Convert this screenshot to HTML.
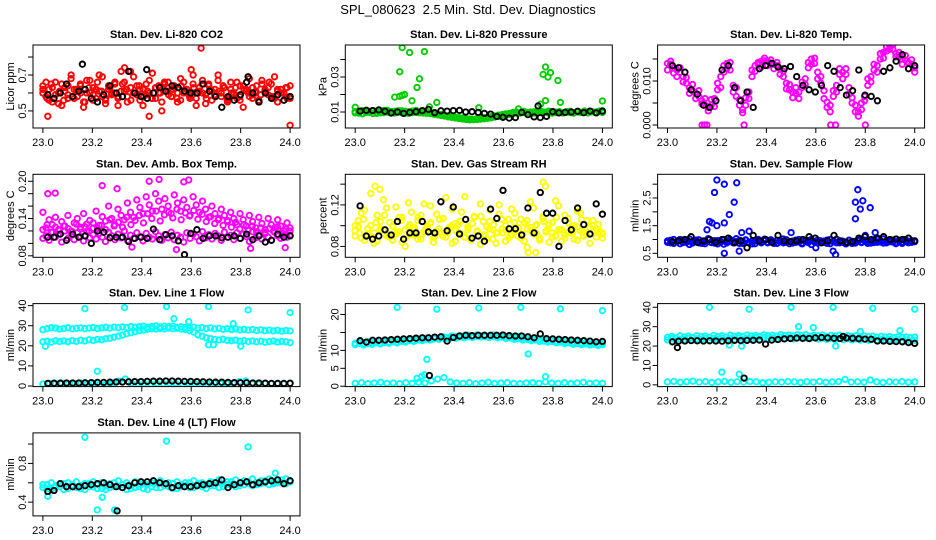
<!DOCTYPE html>
<html><head><meta charset="utf-8"><style>
html,body{margin:0;padding:0;background:#fff;}
svg{display:block;font-family:"Liberation Sans",sans-serif;}
</style></head><body>
<svg id="chart" width="936" height="540" viewBox="0 0 936 540" xmlns="http://www.w3.org/2000/svg">
<text x="468" y="14" text-anchor="middle" font-size="13">SPL_080623&#160; 2.5 Min. Std. Dev. Diagnostics</text>
</svg>
<script>
const xTicks=[23.0,23.2,23.4,23.6,23.8,24.0];
const xTickLabels=["23.0","23.2","23.4","23.6","23.8","24.0"];
const panelTitles=["Stan. Dev. Li-820 CO2","Stan. Dev. Li-820 Pressure","Stan. Dev. Li-820 Temp.","Stan. Dev. Amb. Box Temp.","Stan. Dev. Gas Stream RH","Stan. Dev. Sample Flow","Stan. Dev. Line 1 Flow","Stan. Dev. Line 2 Flow","Stan. Dev. Line 3 Flow","Stan. Dev. Line 4 (LT) Flow"];
const yTitles=["Licor ppm","kPa","degrees C","degrees C","percent","ml/min","ml/min","ml/min","ml/min","ml/min"];

const p1A=[0.64,0.58,0.62,0.55,0.66,0.6,0.53,0.63,0.59,0.68,0.57,0.61,0.65,0.52,0.6,0.67,0.56,0.62,0.7,0.58,0.54,0.64,0.6,0.66,0.57,0.72,0.61,0.55,0.63,0.69,0.59,0.62,0.53,0.65,0.6,0.71,0.57,0.64,0.5,0.61,0.66,0.58,0.63,0.55,0.68,0.6,0.62,0.57,0.65,0.53,0.61,0.67,0.59,0.64,0.56,0.62,0.7,0.58,0.63,0.55,0.66,0.6,0.57,0.64,0.52,0.62,0.68,0.59,0.61,0.56,0.65,0.6,0.63,0.58,0.69,0.55,0.62,0.6,0.57,0.64];
const p1B=[0.6,0.66,0.56,0.63,0.59,0.54,0.65,0.61,0.57,0.7,0.62,0.58,0.64,0.55,0.67,0.6,0.63,0.57,0.61,0.69,0.56,0.62,0.59,0.65,0.53,0.61,0.66,0.58,0.72,0.6,0.64,0.56,0.62,0.59,0.67,0.57,0.63,0.6,0.55,0.65,0.61,0.58,0.64,0.6,0.56,0.66,0.62,0.59,0.7,0.57,0.63,0.6,0.54,0.65,0.61,0.58,0.67,0.6,0.63,0.57,0.62,0.59,0.66,0.56,0.64,0.61,0.58,0.63,0.6,0.55,0.67,0.62,0.59,0.65,0.57,0.61,0.6,0.56,0.63,0.58];
const p1C=[0.62,0.57,0.65,0.59,0.61,0.56,0.64,0.58,0.62,0.6,0.55,0.63,0.59,0.66,0.61,0.57,0.63,0.6,0.58,0.65,0.62,0.56,0.6,0.64,0.58,0.61,0.57,0.63,0.6,0.66,0.59,0.62,0.57,0.64,0.61,0.58,0.63,0.6,0.65,0.57,0.62,0.59,0.61,0.64,0.56,0.6,0.63,0.58,0.62,0.6,0.57,0.64,0.59,0.61,0.66,0.58,0.62,0.6,0.63,0.57];
const p1Out=[[23.64,0.85],[23.02,0.47],[24.0,0.42],[23.43,0.47],[23.33,0.74],[23.6,0.73]];
const p1K=[0.59,0.57,0.6,0.65,0.58,0.61,0.62,0.57,0.55,0.59,0.64,0.6,0.58,0.72,0.6,0.58,0.57,0.6,0.63,0.61,0.64,0.63,0.61,0.6,0.6,0.65,0.61,0.58,0.52,0.58,0.56,0.59,0.66,0.6,0.55,0.6,0.57,0.59,0.56,0.58];
const p1KOut=[[23.16,0.76],[23.42,0.73],[23.83,0.69]];

const p2A=[0.0095,0.0105,0.009,0.010,0.0098,0.0108,0.0092,0.0102,0.0096,0.011,0.0093,0.0104,0.0099,0.0107,0.0094,0.0101,0.0097,0.0109,0.0095,0.0103,0.0092,0.0098,0.0094,0.0089,0.0086,0.0082,0.0078,0.0074,0.0071,0.0068,0.0065,0.0062,0.006,0.0058,0.0057,0.0059,0.0061,0.0064,0.0067,0.0071,0.0075,0.0079,0.0083,0.0087,0.009,0.0093,0.0095,0.0098,0.0096,0.01,0.0094,0.0102,0.0097,0.0099,0.0093,0.0101,0.0096,0.0098,0.0094,0.0103,0.0097,0.0095,0.01,0.0098,0.0104,0.0096,0.0101,0.0099,0.0105,0.0097];
const p2B=[0.0102,0.0093,0.0108,0.0097,0.0104,0.0091,0.0106,0.0095,0.0109,0.0099,0.0103,0.0094,0.0107,0.0096,0.0104,0.0092,0.0106,0.0098,0.0101,0.0094,0.0099,0.0091,0.0087,0.0084,0.008,0.0077,0.0072,0.0069,0.0066,0.0063,0.006,0.0057,0.0055,0.0056,0.0062,0.0064,0.0068,0.007,0.0074,0.0078,0.0082,0.0085,0.0089,0.0092,0.0097,0.01,0.0093,0.0104,0.0098,0.0095,0.0101,0.0096,0.0103,0.0097,0.0105,0.0094,0.01,0.0102,0.0096,0.0099,0.0104,0.0093,0.0102,0.0097,0.0106,0.0095,0.0103,0.0098,0.0101,0.0107];
const p2Out=[[23.0,0.0127],[23.18,0.019],[23.16,0.0185],[23.19,0.0195],[23.2,0.02],[23.19,0.0468],[23.22,0.044],[23.28,0.0445],[23.18,0.033],[23.26,0.029],[23.25,0.024],[23.23,0.0164],[23.3,0.013],[23.33,0.0155],[23.5,0.0124],[23.77,0.0357],[23.76,0.0315],[23.78,0.03],[23.79,0.0325],[23.82,0.028],[23.77,0.0165],[23.75,0.0145],[23.83,0.0155],[24.0,0.0163],[23.66,0.0118]];
const p2K=[0.0105,0.011,0.0108,0.0112,0.0104,0.0095,0.01,0.0092,0.0098,0.0102,0.0108,0.0115,0.0096,0.0107,0.0105,0.0108,0.0109,0.01,0.0102,0.0098,0.0092,0.0088,0.0075,0.007,0.0065,0.0068,0.0098,0.0085,0.0072,0.0068,0.0075,0.0102,0.0095,0.0098,0.01,0.0104,0.0096,0.0105,0.0095,0.0105];
const p2KOut=[[23.74,0.0135]];

const p3A=[0.014,0.0138,0.013,0.0125,0.012,0.011,0.0095,0.0085,0.0078,0.0072,0.0065,0.0055,0.0045,0.004,0.0045,0.006,0.008,0.011,0.0135,0.014,0.0125,0.009,0.0065,0.0045,0.0035,0.0045,0.0075,0.011,0.0135,0.0142,0.0145,0.0146,0.0145,0.014,0.0138,0.0135,0.0128,0.011,0.0095,0.008,0.0075,0.0072,0.0075,0.0085,0.0105,0.013,0.015,0.014,0.012,0.0095,0.006,0.004,0.0045,0.0065,0.009,0.0115,0.012,0.0115,0.0085,0.005,0.003,0.002,0.0035,0.0065,0.009,0.011,0.0125,0.0135,0.015,0.0165,0.0178,0.018,0.0172,0.0162,0.0155,0.015,0.0148,0.0142,0.0138,0.013];
const p3B=[0.0125,0.0145,0.0118,0.011,0.013,0.0098,0.0108,0.0072,0.0092,0.006,0.0078,0.0048,0.006,0.0032,0.0058,0.0042,0.0095,0.0085,0.012,0.0128,0.0142,0.0075,0.0085,0.0058,0.0028,0.0062,0.006,0.0125,0.0122,0.0138,0.0132,0.0152,0.0135,0.0148,0.0128,0.0142,0.0115,0.0122,0.0082,0.0092,0.0062,0.0085,0.006,0.0098,0.0092,0.0142,0.0138,0.0152,0.0105,0.011,0.0078,0.0052,0.003,0.0078,0.0075,0.0128,0.0105,0.0128,0.007,0.0062,0.0045,0.003,0.005,0.0055,0.0105,0.0098,0.0138,0.012,0.0162,0.0152,0.0168,0.0172,0.0182,0.0155,0.0165,0.0138,0.0158,0.0128,0.0148,0.012];
const p3Out=[[23.15,0],[23.16,0],[23.14,0],[23.31,0],[23.66,0],[23.68,0],[23.8,0]];
const p3K=[0.0135,0.013,0.012,0.008,0.007,0.0045,0.004,0.0055,0.0125,0.0135,0.0085,0.0055,0.0075,0.004,0.0128,0.0135,0.014,0.0132,0.0128,0.0133,0.011,0.009,0.008,0.0075,0.009,0.0135,0.0122,0.0085,0.0068,0.0078,0.0125,0.0068,0.0065,0.0055,0.0122,0.013,0.0145,0.016,0.0128,0.0135];
const p3KOut=[];

const p4A=[0.108,0.112,0.105,0.118,0.11,0.115,0.102,0.12,0.108,0.113,0.106,0.117,0.111,0.104,0.119,0.109,0.114,0.107,0.116,0.11,0.103,0.118,0.112,0.106,0.115,0.109,0.12,0.105,0.113,0.108,0.117,0.111,0.104,0.116,0.11,0.107,0.119,0.112,0.105,0.114,0.109,0.118,0.106,0.113,0.11,0.102,0.117,0.108,0.115,0.111,0.104,0.119,0.109,0.114,0.107,0.116,0.112,0.105,0.118,0.11,0.113,0.106,0.117,0.108,0.115,0.111,0.103,0.119,0.109,0.114,0.107,0.116,0.11,0.105,0.118,0.112,0.108,0.115,0.11,0.113];
const p4B=[0.15,0.125,0.138,0.13,0.142,0.122,0.135,0.128,0.145,0.12,0.133,0.14,0.126,0.148,0.131,0.137,0.124,0.152,0.129,0.143,0.136,0.16,0.14,0.13,0.155,0.145,0.138,0.165,0.15,0.142,0.17,0.158,0.148,0.175,0.162,0.152,0.18,0.168,0.155,0.172,0.16,0.148,0.178,0.165,0.152,0.17,0.158,0.145,0.175,0.162,0.15,0.168,0.155,0.142,0.16,0.148,0.138,0.155,0.145,0.135,0.15,0.14,0.13,0.148,0.138,0.128,0.145,0.135,0.125,0.142,0.132,0.122,0.14,0.13,0.125,0.138,0.128,0.12,0.133,0.125];
const p4C=[0.122,0.13,0.118,0.126,0.121,0.128,0.124,0.119,0.131,0.123,0.127,0.12,0.133,0.125,0.129,0.122,0.138,0.128,0.134,0.126,0.142,0.13,0.137,0.145,0.133,0.148,0.14,0.152,0.136,0.146,0.15,0.141,0.155,0.138,0.149,0.144,0.153,0.139,0.147,0.135,0.143,0.132,0.14,0.129,0.137,0.126,0.134,0.123,0.13,0.121,0.128,0.119,0.125,0.118,0.124,0.12,0.127,0.117,0.123,0.12];
const p4Out=[[23.02,0.18],[23.05,0.181],[23.24,0.193],[23.3,0.188],[23.43,0.2],[23.47,0.203],[23.57,0.199],[23.59,0.202],[23.54,0.09],[23.98,0.093],[23.36,0.094],[23.84,0.092]];
const p4K=[0.11,0.11,0.115,0.105,0.115,0.11,0.112,0.1,0.12,0.118,0.109,0.11,0.11,0.103,0.108,0.11,0.108,0.123,0.106,0.114,0.112,0.104,0.082,0.116,0.122,0.108,0.112,0.112,0.109,0.11,0.112,0.108,0.115,0.106,0.112,0.102,0.105,0.115,0.11,0.112];
const p4KOut=[];

const p5A=[0.095,0.105,0.088,0.115,0.092,0.1,0.083,0.11,0.097,0.125,0.09,0.103,0.086,0.118,0.094,0.108,0.08,0.099,0.113,0.091,0.105,0.087,0.121,0.096,0.102,0.084,0.111,0.093,0.107,0.089,0.098,0.116,0.085,0.101,0.092,0.128,0.096,0.088,0.109,0.094,0.082,0.104,0.099,0.115,0.087,0.093,0.12,0.097,0.085,0.106,0.091,0.112,0.095,0.088,0.103,0.079,0.098,0.117,0.092,0.086,0.107,0.094,0.101,0.089,0.124,0.096,0.085,0.11,0.093,0.099,0.087,0.114,0.095,0.09,0.105,0.083,0.1,0.097,0.092,0.088];
const p5B=[0.09,0.099,0.112,0.086,0.097,0.131,0.093,0.085,0.104,0.095,0.117,0.089,0.1,0.092,0.108,0.084,0.096,0.122,0.091,0.098,0.087,0.11,0.094,0.1,0.119,0.088,0.095,0.106,0.09,0.127,0.097,0.083,0.102,0.093,0.113,0.089,0.099,0.086,0.108,0.095,0.121,0.091,0.087,0.104,0.096,0.083,0.111,0.093,0.1,0.088,0.116,0.094,0.09,0.106,0.085,0.097,0.123,0.092,0.101,0.087,0.109,0.095,0.084,0.103,0.09,0.119,0.096,0.088,0.107,0.093,0.1,0.086,0.112,0.094,0.091,0.098,0.105,0.089,0.095,0.092];
const p5C=[0.1,0.093,0.106,0.097,0.089,0.103,0.095,0.11,0.091,0.099,0.094,0.105,0.088,0.101,0.096,0.108,0.092,0.098,0.103,0.09,0.097,0.107,0.093,0.1,0.095,0.104,0.089,0.098,0.102,0.094,0.109,0.091,0.097,0.101,0.093,0.106,0.096,0.09,0.103,0.098,0.092,0.105,0.095,0.1,0.088,0.104,0.097,0.093,0.108,0.096,0.091,0.102,0.094,0.099,0.106,0.092,0.098,0.095,0.101,0.093];
const p5Out=[[23.08,0.138],[23.1,0.135],[23.76,0.142],[23.77,0.138],[23.7,0.074],[23.73,0.074]];
const p5K=[0.119,0.09,0.087,0.09,0.096,0.091,0.104,0.087,0.093,0.093,0.104,0.094,0.093,0.123,0.095,0.118,0.092,0.106,0.088,0.09,0.085,0.116,0.107,0.134,0.097,0.097,0.091,0.117,0.093,0.132,0.112,0.112,0.08,0.105,0.096,0.117,0.101,0.092,0.121,0.111];
const p5KOut=[];

const p6A=[0.95,0.88,1.0,0.92,0.85,0.98,0.9,1.02,0.87,0.94,0.99,0.86,0.93,1.01,0.89,0.96,0.84,0.92,1.0,0.88,0.95,0.9,1.03,0.86,0.93,0.97,0.89,0.94,0.85,1.0,0.91,0.96,0.88,0.99,0.92,0.86,0.95,1.02,0.9,0.93,0.87,0.98,0.91,0.84,0.96,0.89,1.0,0.92,0.87,0.95,0.9,0.98,0.85,0.93,1.01,0.88,0.94,0.91,0.97,0.86,0.93,1.0,0.89,0.95,0.92,0.87,0.99,0.9,0.94,1.02,0.88,0.96,0.91,0.85,0.97,0.9,0.94,0.88,0.96,0.92];
const p6B=[0.9,0.97,0.86,0.93,1.0,0.89,0.95,0.82,0.92,0.98,0.88,0.94,0.85,1.03,0.91,0.87,0.96,0.9,0.83,0.94,1.0,0.88,0.92,0.97,0.86,0.99,0.9,0.84,0.95,0.93,0.88,1.01,0.9,0.94,0.86,0.97,0.92,0.88,0.99,0.85,0.94,0.9,1.0,0.87,0.93,0.96,0.82,0.91,0.98,0.89,0.94,0.86,1.0,0.92,0.88,0.95,0.9,0.84,0.97,0.93,0.87,0.95,0.9,0.98,0.86,0.93,0.89,1.01,0.91,0.87,0.95,0.92,0.98,0.89,0.94,0.86,1.0,0.93,0.9,0.95];
const p6Out=[[23.16,1.35],[23.17,1.65],[23.18,1.6],[23.2,1.5],[23.19,2.7],[23.2,3.15],[23.23,3.0],[23.27,2.35],[23.25,1.9],[23.23,1.6],[23.28,3.05],[23.23,0.5],[23.3,1.25],[23.33,1.3],[23.29,0.58],[23.5,1.25],[23.6,0.7],[23.67,0.58],[23.68,0.45],[23.76,2.35],[23.77,2.8],[23.78,2.1],[23.79,2.4],[23.76,1.75],[23.82,2.15],[23.84,1.25],[23.8,1.15]];
const p6K=[0.92,0.95,1.0,1.1,0.9,0.95,1.0,0.9,1.0,1.05,0.88,0.95,0.7,1.15,0.95,1.0,0.9,1.15,0.95,0.92,0.95,1.0,1.1,1.05,0.88,0.95,1.15,0.95,0.9,0.92,1.05,1.1,1.0,1.05,1.1,1.0,1.02,1.0,1.05,0.95];
const p6KOut=[];

const p7A=[28,28.5,29,28.8,28.3,28.6,29,28.4,28.7,28.9,28.5,28.8,29.1,28.6,28.9,29.2,28.8,29.3,29,29.4,29.1,29.6,29.2,29.5,29.8,29.3,29.6,29.9,29.4,29.7,29.5,29.8,29.2,29.5,29.1,28.9,29.3,28.8,29,28.6,28.9,28.4,28.7,28.2,28.5,28.1,28.4,27.9,28.2,27.8,28.1,27.6,27.9,27.5,27.8,27.4,27.7,27.3,27.6,27.4];
const p7B=[22,22.3,21.8,22.5,22.1,22.4,22,22.6,22.2,22.8,22.4,23,22.7,23.2,23,23.5,23.8,24.3,24.8,25.4,26,26.5,27,27.5,27.8,28.2,28.5,28.3,28.6,28.4,28.8,28.5,28.7,28.3,28.1,27.5,26.8,25.5,24.8,24,23.6,23.2,22.9,23.3,22.7,22.5,22.8,22.3,22.6,22.1,22.4,22,22.3,21.8,22.1,22.4,21.9,22.2,22,21.6];
const p7C=[1,1.3,1.1,1.4,1,1.2,1.5,1.1,1.3,1.0,1.2,1.4,2.5,3.5,1.3,1.1,1.2,1.0,1.3,1.1,1.4,1.2,1.0,1.3,1.1,1.2,1.0,1.4,1.2,1.1,1.3,2.2,2.5,1.2,1.0,1.3,1.1,1.2,1.0,1.3];
const p7Out=[[23.17,38.5],[23.33,39],[23.5,39.5],[23.67,39.5],[23.83,37.8],[24,36.5],[23.53,33.5],[23.59,32],[23.77,31],[23.22,7.3],[23.67,20.5],[23.69,20.5],[23.8,19.8],[23.01,19.8]];
const p7K=[1.3,1.4,1.4,1.5,1.5,1.5,1.6,1.7,1.8,1.8,1.9,2,2,2.1,2.2,2.2,2.3,2.4,2.4,2.5,2.5,2.4,2.3,2.3,2.2,2.1,2,1.9,1.9,1.8,1.7,1.6,1.6,1.5,1.5,1.4,1.3,1.3,1.3,1.4];
const p7KOut=[];

const p8A=[12,12.3,11.9,12.4,12.2,12.5,12.1,12.6,12.3,12.7,12.4,12.8,12.6,13,12.8,13.2,13,13.4,13.2,13.6,13.4,13.8,13.6,14,13.8,14.1,13.9,14.2,14,14.3,14.1,14.2,14,14.3,13.9,14.1,13.8,14,13.6,13.8,13.4,13.6,13.2,13.4,13,13.2,12.8,13,12.6,12.8,12.4,12.6,12.2,12.4,12,12.2,11.9,12.1,11.8,12];
const p8B=[11.6,12,11.5,11.9,11.7,12.1,11.8,12.2,12,12.4,12.1,12.5,12.3,12.7,12.5,12.9,12.7,13.1,12.9,13.3,13.1,13.5,13.3,13.6,13.4,13.7,13.5,13.8,13.6,13.9,13.7,13.8,13.6,13.8,13.5,13.7,13.3,13.5,13.1,13.3,12.9,13.1,12.7,12.9,12.5,12.6,12.3,12.5,12.1,12.3,11.9,12.1,11.7,11.9,11.6,11.8,11.5,11.7,11.4,11.6];
const p8C=[0.8,1.0,0.7,0.9,1.1,0.8,0.9,0.7,1.0,0.8,1.1,0.9,1.5,2.0,2.4,1.2,0.9,0.8,1.0,0.7,0.9,1.1,0.8,0.9,1.0,0.8,0.7,0.9,1.0,0.8,1.2,0.9,0.8,1.0,0.7,0.9,1.1,0.8,0.9,0.8];
const p8Out=[[23.17,22],[23.33,21.5],[23.5,21.8],[23.67,22],[23.83,21.6],[24,21.1],[23.29,7.5],[23.7,9],[23.28,3.2],[23.27,2.8],[23.25,2.2],[23.77,2.7]];
const p8K=[12.7,12.3,12.8,12.8,12.9,13.0,13.1,13.2,13.3,13.4,13.5,13.5,13.7,13.8,12.6,13.6,14.0,14.2,14.1,14.2,14.2,14.2,14.2,14.3,14.1,14.0,14.0,13.8,13.5,14.6,13.3,13.2,13.1,13.0,12.9,12.8,12.7,12.6,12.4,12.5];
const p8KOut=[[23.3,3.0]];

const p9A=[24.5,25,24.2,25.3,24.7,25.1,24.4,25.4,24.8,25.2,24.5,25.5,24.9,25.3,24.6,25.6,25,25.4,24.8,25.7,25.2,25.5,24.9,25.8,25.3,25.6,25.1,25.9,25.4,25.7,25.2,25.8,25.5,25.9,25.1,25.6,25.3,25.7,24.9,25.5,25.2,25.6,24.8,25.4,25,25.3,24.7,25.2,24.9,25.1,24.6,25,24.7,24.9,24.4,24.8,24.5,24.7,24.3,24.6];
const p9B=[23.2,23.8,22.9,23.6,23.3,23.9,23,23.7,23.4,24,23.1,23.8,23.5,24.1,23.2,23.9,23.6,24.2,23.3,24,23.7,24.3,23.5,24.4,23.8,24.2,23.6,24.5,23.9,24.3,23.7,24.4,24,24.2,23.8,24.3,23.6,24.1,23.5,24,23.4,23.9,23.3,23.8,23.2,23.7,23.1,23.6,23,23.5,22.9,23.4,22.8,23.3,22.7,23.2,22.6,23.1,22.5,23];
const p9C=[1.5,1.8,1.3,1.6,1.9,1.4,1.7,1.2,1.5,1.8,1.3,1.6,1.4,1.7,1.5,1.1,1.3,1.6,1.4,1.7,1.5,1.2,1.6,1.4,1.8,1.3,1.5,1.7,2.8,1.4,1.6,1.3,2.5,1.5,1.2,1.6,1.4,1.7,1.3,1.5];
const p9Out=[[23.17,40],[23.33,39],[23.5,40],[23.67,40],[23.83,39.5],[24,39],[23.53,30],[23.59,29.5],[23.78,27.5],[23.94,28],[23.22,6.5],[23.29,5.5],[23.68,20],[23.3,20],[23.25,20.5]];
const p9K=[22.2,22.5,22.6,22.8,22.7,22.6,22.7,22.6,22.5,22.7,22.9,22.8,22.9,23.0,23.1,21.0,23.1,23.4,23.7,23.9,24.1,24.0,23.9,24.2,24.4,24.2,24.0,23.9,24.2,24.0,23.8,23.6,23.5,22.6,22.6,22.4,22.3,22.2,21.8,21.4];
const p9KOut=[[23.04,19.2],[23.31,3.5],[23.71,25]];

const p10A=[0.55,0.58,0.53,0.57,0.56,0.59,0.54,0.58,0.55,0.57,0.53,0.59,0.56,0.58,0.54,0.57,0.55,0.6,0.56,0.58,0.53,0.57,0.55,0.59,0.54,0.58,0.56,0.6,0.55,0.57,0.56,0.59,0.54,0.58,0.57,0.6,0.55,0.59,0.56,0.58,0.57,0.6,0.55,0.59,0.58,0.61,0.56,0.6,0.58,0.61,0.57,0.6,0.59,0.62,0.58,0.61,0.6,0.63,0.59,0.62];
const p10B=[0.58,0.54,0.6,0.55,0.59,0.53,0.6,0.56,0.61,0.54,0.59,0.56,0.61,0.54,0.6,0.53,0.59,0.56,0.62,0.55,0.6,0.54,0.61,0.56,0.59,0.53,0.6,0.55,0.62,0.57,0.6,0.54,0.61,0.56,0.6,0.55,0.62,0.57,0.6,0.54,0.61,0.57,0.63,0.56,0.61,0.58,0.63,0.57,0.62,0.59,0.64,0.58,0.62,0.6,0.64,0.59,0.63,0.6,0.64,0.61];
const p10Out=[[23.17,1.07],[23.5,1.03],[23.83,0.97],[23.22,0.32],[23.29,0.32],[23.24,0.45],[23.02,0.46],[23.94,0.7]];
const p10K=[0.51,0.52,0.59,0.56,0.56,0.56,0.57,0.58,0.59,0.6,0.58,0.56,0.55,0.57,0.6,0.61,0.61,0.62,0.6,0.59,0.55,0.57,0.56,0.56,0.57,0.58,0.59,0.6,0.63,0.55,0.58,0.6,0.61,0.58,0.6,0.61,0.62,0.63,0.59,0.62];
const p10KOut=[[23.3,0.31]];

const yMins=[0.405,0.00086,-0.00068,0.0776,0.0695,0.357,-0.3,-0.1,-0.9,0.258];
const yMaxs=[0.867,0.0483,0.01818,0.2112,0.1495,3.357,41,23.05,41.9,1.115];
const yTickVals=[[0.5,0.6,0.7,0.8],[0.01,0.02,0.03,0.04],[0,0.005,0.01,0.015],[0.08,0.1,0.12,0.14,0.16,0.18,0.2],[0.08,0.1,0.12,0.14],[0.5,1,1.5,2,2.5,3],[0,10,20,30,40],[0,5,10,15,20],[0,10,20,30,40],[0.4,0.6,0.8,1.0]];
const yTickLabels=[["0.5","","0.7",""],["0.01","","0.03",""],["0.000","","0.010",""],["0.08","","","0.14","","","0.20"],["0.08","","0.12",""],["0.5","","1.5","","2.5",""],["0","10","20","30","40"],["0","5","10","","20"],["0","10","20","30","40"],["0.4","","0.8",""]];

const colors=["#ff0000","#00cc00","#ff00ff","#ff00ff","#ffff00","#0000ff","#00ffff","#00ffff","#00ffff","#00ffff"];
const bands=[[p1A,p1B,p1C],[p2A,p2B],[p3A,p3B],[p4A,p4B,p4C],[p5A,p5B,p5C],[p6A,p6B],[p7A,p7B,p7C],[p8A,p8B,p8C],[p9A,p9B,p9C],[p10A,p10B]];
const outs=[p1Out,p2Out,p3Out,p4Out,p5Out,p6Out,p7Out,p8Out,p9Out,p10Out];
const blacks=[p1K,p2K,p3K,p4K,p5K,p6K,p7K,p8K,p9K,p10K];
const blackOuts=[p1KOut,p2KOut,p3KOut,p4KOut,p5KOut,p6KOut,p7KOut,p8KOut,p9KOut,p10KOut];

const NS="http://www.w3.org/2000/svg";
const svg=document.getElementById('chart');
function mk(tag,attrs,parent){const e=document.createElementNS(NS,tag);for(const k in attrs)e.setAttribute(k,attrs[k]);(parent||svg).appendChild(e);return e;}

for(let p=0;p<10;p++){
  const c=p%3, r=Math.floor(p/3);
  const L=33+312.3*c, W=267, T=45+129.3*r, H=83;
  const X=v=>L+(v-22.96)/1.08*W;
  const Y=v=>T+H-(v-yMins[p])/(yMaxs[p]-yMins[p])*H;
  const g=mk('g',{});
  
  
  const clipId='clip'+p;
  const cp=mk('clipPath',{id:clipId},g);mk('rect',{x:L,y:T,width:W,height:H},cp);
  const pts=mk('g',{'clip-path':'url(#'+clipId+')'},g);
  
  
  const col=colors[p];
  function dot(x,y,stroke){
    const e=mk('circle',{cx:X(x).toFixed(1),cy:Y(y).toFixed(1),r:2.7,fill:'none',stroke:stroke,'stroke-width':1.9},pts);
    
    
  }
  bands[p].forEach(arr=>{arr.forEach((v,i)=>dot(23+i/(arr.length-1),v,col));});
  outs[p].forEach(o=>dot(o[0],o[1],col));
  const k=blacks[p];
  k.forEach((v,i)=>dot(23.02+i*0.98/(k.length-1),v,'#000'));
  blackOuts[p].forEach(o=>dot(o[0],o[1],'#000'));
  const box=mk('rect',{x:L,y:T,width:W,height:H,fill:'none',stroke:'#000','stroke-width':1},g);
  
  
  const tt=mk('text',{x:L+W/2,y:T-7,'text-anchor':'middle','font-size':11,'font-weight':'bold'},g);
  tt.textContent=panelTitles[p];
  
  
  const yt=mk('text',{transform:`translate(${L-19},${T+H/2}) rotate(-90)`,'text-anchor':'middle','font-size':11},g);
  yt.textContent=yTitles[p];
  
  
  xTicks.forEach((v,i)=>{
    const x=X(v);
    mk('line',{x1:x,x2:x,y1:T+H,y2:T+H+5,stroke:'#000'},g);
    const t=mk('text',{x:x,y:T+H+18,'text-anchor':'middle','font-size':11},g);
    t.textContent=xTickLabels[i];
    
    
  });
  yTickVals[p].forEach((v,i)=>{
    const y=Y(v);
    mk('line',{x1:L-5,x2:L,y1:y,y2:y,stroke:'#000'},g);
    if(yTickLabels[p][i]){
      const t=mk('text',{transform:`translate(${L-7},${y}) rotate(-90)`,'text-anchor':'middle','font-size':11},g);
      t.textContent=yTickLabels[p][i];
      
      
    }
  });
}
</script>
</body></html>
